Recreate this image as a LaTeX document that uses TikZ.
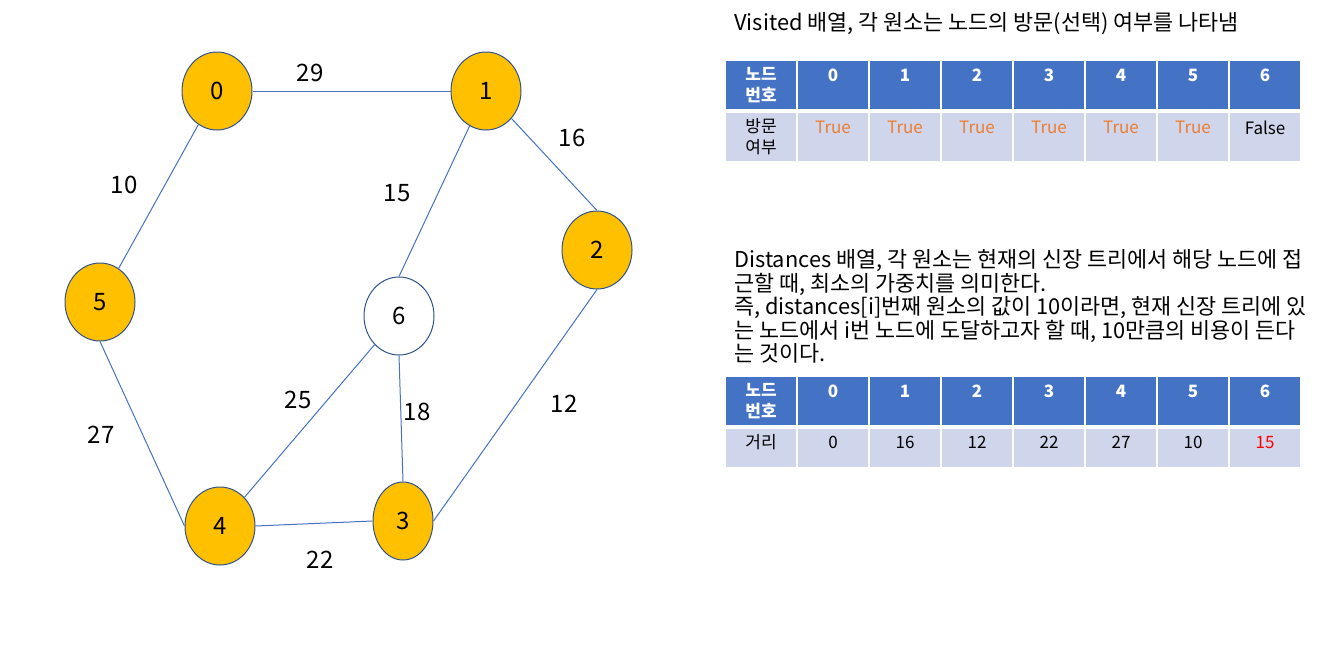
\documentclass[tikz,border=0pt]{standalone}
\usepackage{fontspec}
\setmainfont{Noto Sans CJK KR}
\usetikzlibrary{shapes.geometric}
\definecolor{vfill}{HTML}{FFC000}
\definecolor{vline}{HTML}{2F528F}
\definecolor{eblue}{HTML}{4472C4}
\definecolor{hblue}{HTML}{4472C4}
\definecolor{bblue}{HTML}{CFD5EA}
\definecolor{torange}{HTML}{ED7D31}
\begin{document}
\begin{tikzpicture}[x=0.5pt,y=-0.5pt,
  vertex/.style={ellipse, draw=vline, fill=vfill, line width=0.5pt, minimum width=35pt, minimum height=39pt, inner sep=0pt, font=\fontsize{12}{14}\selectfont},
  edge/.style={draw=eblue, line width=0.5pt},
  weight/.style={font=\fontsize{12}{14}\selectfont},
  hcell/.style={fill=hblue, minimum width=35pt, minimum height=24pt, inner sep=0pt},
  bcell/.style={fill=bblue, minimum width=35pt, minimum height=24pt, inner sep=0pt},
  htext/.style={text=white, font=\fontsize{8.5}{10.5}\bfseries, align=center},
  btext/.style={font=\fontsize{8.5}{10.5}\selectfont, align=center},
  note/.style={font=\fontsize{10.9}{11.75}\selectfont, align=left, anchor=west, inner sep=0pt}]
\useasboundingbox (0,0) rectangle (1320,648);
% graph
\node[vertex] (n0) at (217,91) {0};
\node[vertex] (n1) at (486,91) {1};
\node[vertex] (n2) at (597,250) {2};
\node[vertex, minimum width=30pt] (n3) at (403,521) {3};
\node[vertex] (n4) at (220,526) {4};
\node[vertex] (n5) at (100,302) {5};
\node[vertex, fill=white] (n6) at (399,316) {6};
\draw[edge] (n0) -- (n1);
\draw[edge] (n1) -- (n2.north);
\draw[edge] (n0) -- (n5);
\draw[edge] (n1) -- (n6.north);
\draw[edge] (n5.south) -- (n4.west);
\draw[edge] (n6) -- (n4);
\draw[edge] (n6.south) -- (n3.north);
\draw[edge] (n2.south) -- (n3.east);
\draw[edge] (n4.east) -- (n3.west);
\node[weight] (w01) at (310,73) {29};
\node[weight] (w12) at (572,138) {16};
\node[weight] (w05) at (124,185) {10};
\node[weight] (w16) at (397,193) {15};
\node[weight] (w54) at (101,435) {27};
\node[weight] (w64) at (298,400) {25};
\node[weight] (w63) at (417,412) {18};
\node[weight] (w23) at (564,404) {12};
\node[weight] (w43) at (320,560) {22};
% visited table
\node[note] (vtitle) at (734,24) {Visited 배열, 각 원소는 노드의 방문(선택) 여부를 나타냄};
\node[hcell] (vh) at (761,85) {};
\node[htext] at (vh) {노드\\번호};
\node[bcell] (vb) at (761,137) {};
\node[btext] at (vb) {방문\\여부};
\foreach \v [count=\k] in {True,True,True,True,True,True,False} {
  \node[hcell] (vh\k) at ({761+72*\k},85) {};
  \node[htext] at ([yshift=-7.5pt]vh\k.north) {\the\numexpr\k-1\relax};
  \node[bcell] (vb\k) at ({761+72*\k},137) {};
}
\foreach \k in {1,...,6}
  \node[btext, text=torange] at ([yshift=-7.5pt]vb\k.north) {True};
\node[btext] at ([yshift=-7.5pt]vb7.north) {False};
% distances table
\node[note] (dnote) at (734,306.5) {Distances 배열, 각 원소는 현재의 신장 트리에서 해당 노드에 접\\
근할 때, 최소의 가중치를 의미한다.\\
즉, distances[i]번째 원소의 값이 10이라면, 현재 신장 트리에 있\\
는 노드에서 i번 노드에 도달하고자 할 때, 10만큼의 비용이 든다\\
는 것이다.};
\node[hcell] (dh) at (761,401) {};
\node[htext] at (dh) {노드\\번호};
\node[bcell, minimum height=19pt] (db) at (761,448) {};
\node[btext] at ([yshift=-7pt]db.north) {거리};
\foreach \v [count=\k] in {0,16,12,22,27,10,15} {
  \node[hcell] (dh\k) at ({761+72*\k},401) {};
  \node[htext] at ([yshift=-7.5pt]dh\k.north) {\the\numexpr\k-1\relax};
  \node[bcell, minimum height=19pt] (db\k) at ({761+72*\k},448) {};
}
\foreach \v [count=\k] in {0,16,12,22,27,10}
  \node[btext] at ([yshift=-7pt]db\k.north) {\v};
\node[btext, text=red] at ([yshift=-7pt]db7.north) {15};
\end{tikzpicture}
\end{document}
